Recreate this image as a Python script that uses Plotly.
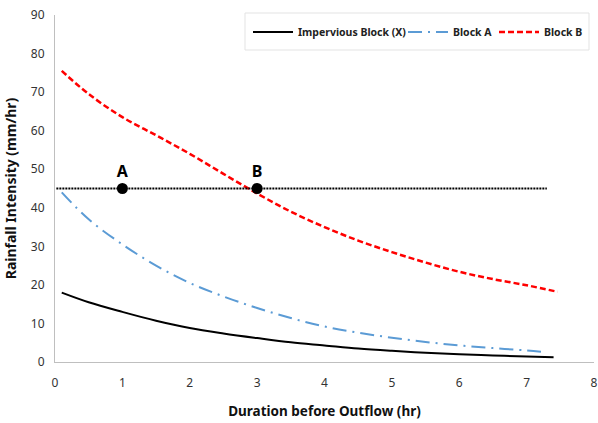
import plotly.graph_objects as go

x_imp = [0.1, 0.5, 1, 1.5, 2, 2.5, 3, 3.5, 4, 4.5, 5, 5.5, 6, 6.5, 7, 7.4]
y_imp = [18, 15.5, 13, 10.7, 8.8, 7.4, 6.2, 5.1, 4.3, 3.5, 2.9, 2.4, 2.0, 1.7, 1.4, 1.2]

x_a = [0.1, 0.5, 1, 1.5, 2, 2.5, 3, 3.5, 4, 4.5, 5, 5.5, 6, 6.5, 7, 7.27]
y_a = [44, 37, 30.5, 25, 20.5, 17, 14, 11.4, 9.2, 7.6, 6.3, 5.2, 4.3, 3.6, 3.0, 2.6]

x_b = [0.1, 0.5, 1, 1.5, 2, 2.5, 3, 3.5, 4, 4.5, 5, 5.5, 6, 6.5, 7, 7.46]
y_b = [75.5, 69.5, 63.5, 58.8, 54, 48.8, 43.7, 39, 35, 31.5, 28.5, 25.8, 23.4, 21.5, 19.9, 18.2]

ref_x = [0.02, 7.3]
ref_y = [45, 45]

pt_x = [1, 3]
pt_y = [45, 45]
pt_labels = ["A", "B"]

font = "Noto Sans, Open Sans, sans-serif"

fig = go.Figure()
fig.add_trace(go.Scatter(x=x_imp, y=y_imp, mode="lines", name="Impervious Block (X)", legend="legend",
                         line=dict(color="black", width=2, shape="spline")))
fig.add_trace(go.Scatter(x=x_a, y=y_a, mode="lines", name="Block A", legend="legend2",
                         line=dict(color="#5B9BD5", width=2, dash="14px,6px,2px,6px", shape="spline")))
fig.add_trace(go.Scatter(x=x_b, y=y_b, mode="lines", name="Block B", legend="legend3",
                         line=dict(color="#FF0000", width=2.5, dash="6px,3px", shape="spline")))
fig.add_trace(go.Scatter(x=ref_x, y=ref_y, mode="lines", showlegend=False,
                         line=dict(color="black", width=2, dash="2px,1px")))
fig.add_trace(go.Scatter(x=pt_x, y=pt_y, mode="markers+text", showlegend=False,
                         marker=dict(color="black", size=11),
                         text=pt_labels, textposition="top center",
                         textfont=dict(size=16, color="black", family=font, weight="bold")))

# legend frame (pixels -> paper): plot area x 55..594, y 15..362
fig.add_shape(type="rect", xref="paper", yref="paper",
              x0=(245 - 55) / 539, x1=(589 - 55) / 539,
              y0=(362 - 50) / 347, y1=(362 - 13) / 347,
              line=dict(color="#e3e3e3", width=1), fillcolor="white", layer="below")

def leg(px):
    return dict(orientation="h", x=(px - 55) / 539, xanchor="left", y=0.993, yanchor="top",
                borderwidth=0, bgcolor="rgba(0,0,0,0)",
                font=dict(size=10.5, color="#222", family=font, weight="bold"), itemwidth=40)

fig.update_layout(
    width=598, height=423,
    margin=dict(l=55, r=4, t=15, b=61, autoexpand=False),
    paper_bgcolor="white", plot_bgcolor="white",
    font=dict(family=font, size=12, color="#333"),
    showlegend=True,
    legend=leg(248), legend2=leg(403), legend3=leg(494),
    xaxis=dict(range=[0, 8], tickvals=[0, 1, 2, 3, 4, 5, 6, 7, 8], showgrid=False, zeroline=False,
               showline=True, linecolor="#bfbfbf", linewidth=1, ticks="", ticklabelstandoff=10,
               tickfont=dict(size=12, color="#333"),
               title=dict(text="Duration before Outflow (hr)", font=dict(size=13.5, color="#111", weight="bold"), standoff=16)),
    yaxis=dict(range=[0, 90], tickvals=list(range(0, 91, 10)), showgrid=False, zeroline=False,
               showline=True, linecolor="#bfbfbf", linewidth=1, ticks="", ticklabelstandoff=7,
               tickfont=dict(size=12, color="#333"),
               title=dict(text="Rainfall Intensity (mm/hr)", font=dict(size=14, color="#111", weight="bold"), standoff=10)),
)

fig.write_html("out.html")
